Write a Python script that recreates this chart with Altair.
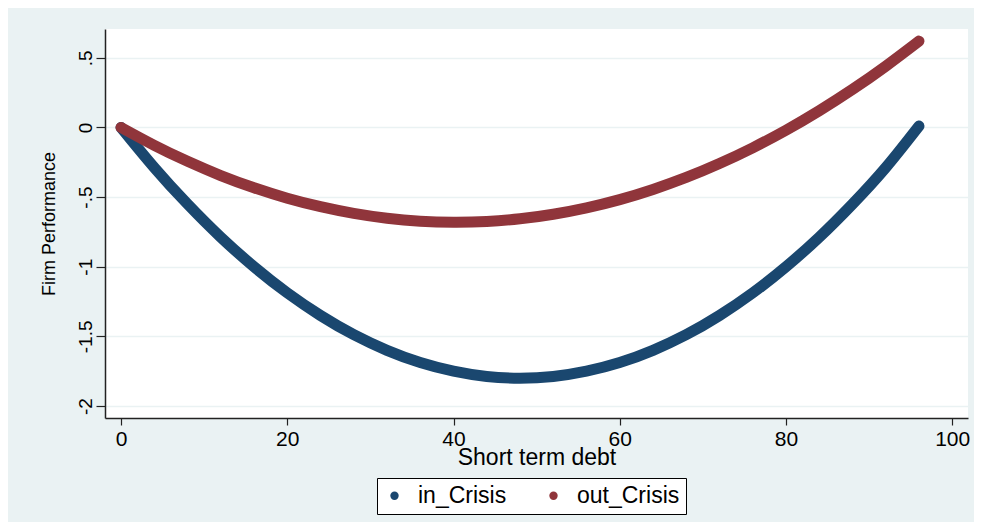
import altair as alt
import pandas as pd

# ---- data ----
X = [0, 4, 8, 12, 16, 20, 24, 28, 32, 36, 40, 44, 48, 52, 56, 60, 64, 68, 72, 76, 80, 84, 88, 92, 96]
IN_CRISIS = [0, -0.288, -0.55, -0.788, -1.0, -1.188, -1.35, -1.488, -1.6, -1.688, -1.75, -1.788, -1.8,
             -1.788, -1.75, -1.688, -1.6, -1.488, -1.35, -1.188, -1.0, -0.788, -0.55, -0.288, 0.01]
OUT_CRISIS = [0, -0.128, -0.243, -0.345, -0.433, -0.508, -0.569, -0.617, -0.652, -0.673, -0.68, -0.675,
              -0.656, -0.623, -0.577, -0.518, -0.445, -0.359, -0.259, -0.146, -0.02, 0.12, 0.273, 0.44, 0.62]
SERIES = ["in_Crisis", "out_Crisis"]
COLORS = ["#1A476F", "#90353B"]
X_TICKS = [0, 20, 40, 60, 80, 100]
Y_TICKS = [-2, -1.5, -1, -0.5, 0, 0.5]
Y_LABELS = ["-2", "-1.5", "-1", "-.5", "0", ".5"]

rows = []
for xv, a, b in zip(X, IN_CRISIS, OUT_CRISIS):
    rows.append({"x": xv, "y": a, "series": SERIES[0], "key": SERIES[0]})
    rows.append({"x": xv, "y": b, "series": SERIES[1], "key": SERIES[1]})
df = pd.DataFrame(rows)

label_expr = " : ".join(
    f"datum.value == {v} ? '{l}'" for v, l in zip(Y_TICKS, Y_LABELS)
) + " : datum.label"

FONT = "Liberation Sans"
AX = "#222222"

x_enc = alt.X(
    "x:Q",
    scale=alt.Scale(domain=[-1.93, 101.9], nice=False, zero=False),
    axis=alt.Axis(
        values=X_TICKS, title="Short term debt", grid=False,
        tickSize=7, labelPadding=3, labelFontSize=21, labelFont=FONT,
        labelColor="#000000", titleFont=FONT, titleFontSize=23,
        titleFontWeight="normal", titleColor="#000000",
        titleX=431.5, titleY=46, titleBaseline="alphabetic", titleAlign="center",
        domainColor=AX, domainWidth=1.5, tickColor=AX, tickWidth=1.2,
        labelFlush=False,
    ),
)
y_enc = alt.Y(
    "y:Q",
    scale=alt.Scale(domain=[-2.086, 0.707], nice=False, zero=False),
    axis=alt.Axis(
        values=Y_TICKS, labelExpr=label_expr, title="Firm Performance",
        labelAngle=270, labelAlign="center", labelBaseline="alphabetic",
        tickSize=9, labelPadding=5, labelFontSize=19, labelFont=FONT,
        labelColor="#000000", grid=True, gridColor="#EAF2F3", gridWidth=1.5,
        titleFont=FONT, titleFontSize=18, titleFontWeight="normal",
        titleColor="#000000", titleAngle=270, titleX=-51, titleY=194.5,
        titleBaseline="alphabetic", titleAlign="center",
        domainColor=AX, domainWidth=1.5, tickColor=AX, tickWidth=1.2,
        labelFlush=False,
    ),
)

lines = alt.Chart(df).mark_line(
    strokeWidth=11, strokeCap="round", interpolate="natural"
).encode(
    x=x_enc, y=y_enc,
    color=alt.Color("series:N", scale=alt.Scale(domain=SERIES, range=COLORS), legend=None),
)

points = alt.Chart(df).mark_point(filled=True, opacity=0).encode(
    x=x_enc, y=y_enc,
    fill=alt.Fill(
        "key:N",
        scale=alt.Scale(domain=SERIES, range=COLORS),
        legend=alt.Legend(
            title=None, orient="none", legendX=272, legendY=449,
            direction="horizontal", fillColor="#FFFFFF", strokeColor="#000000",
            padding=6, labelFont=FONT, labelFontSize=23, labelColor="#000000",
            symbolType="circle", symbolSize=70, symbolOpacity=1,
            symbolStrokeWidth=0, columnPadding=35, labelOffset=12,
        ),
    ),
)

chart = alt.layer(lines, points).resolve_scale(fill="independent", color="independent").properties(
    width=863, height=389,
    padding={"left": 97, "top": 21, "right": 6, "bottom": 104},
    autosize=alt.AutoSizeParams(type="none"),
).configure(
    background="#EAF2F3", font=FONT,
).configure_view(stroke=None, fill="#FFFFFF")

chart.save("out.html", embed_options={"renderer": "svg", "actions": False})
